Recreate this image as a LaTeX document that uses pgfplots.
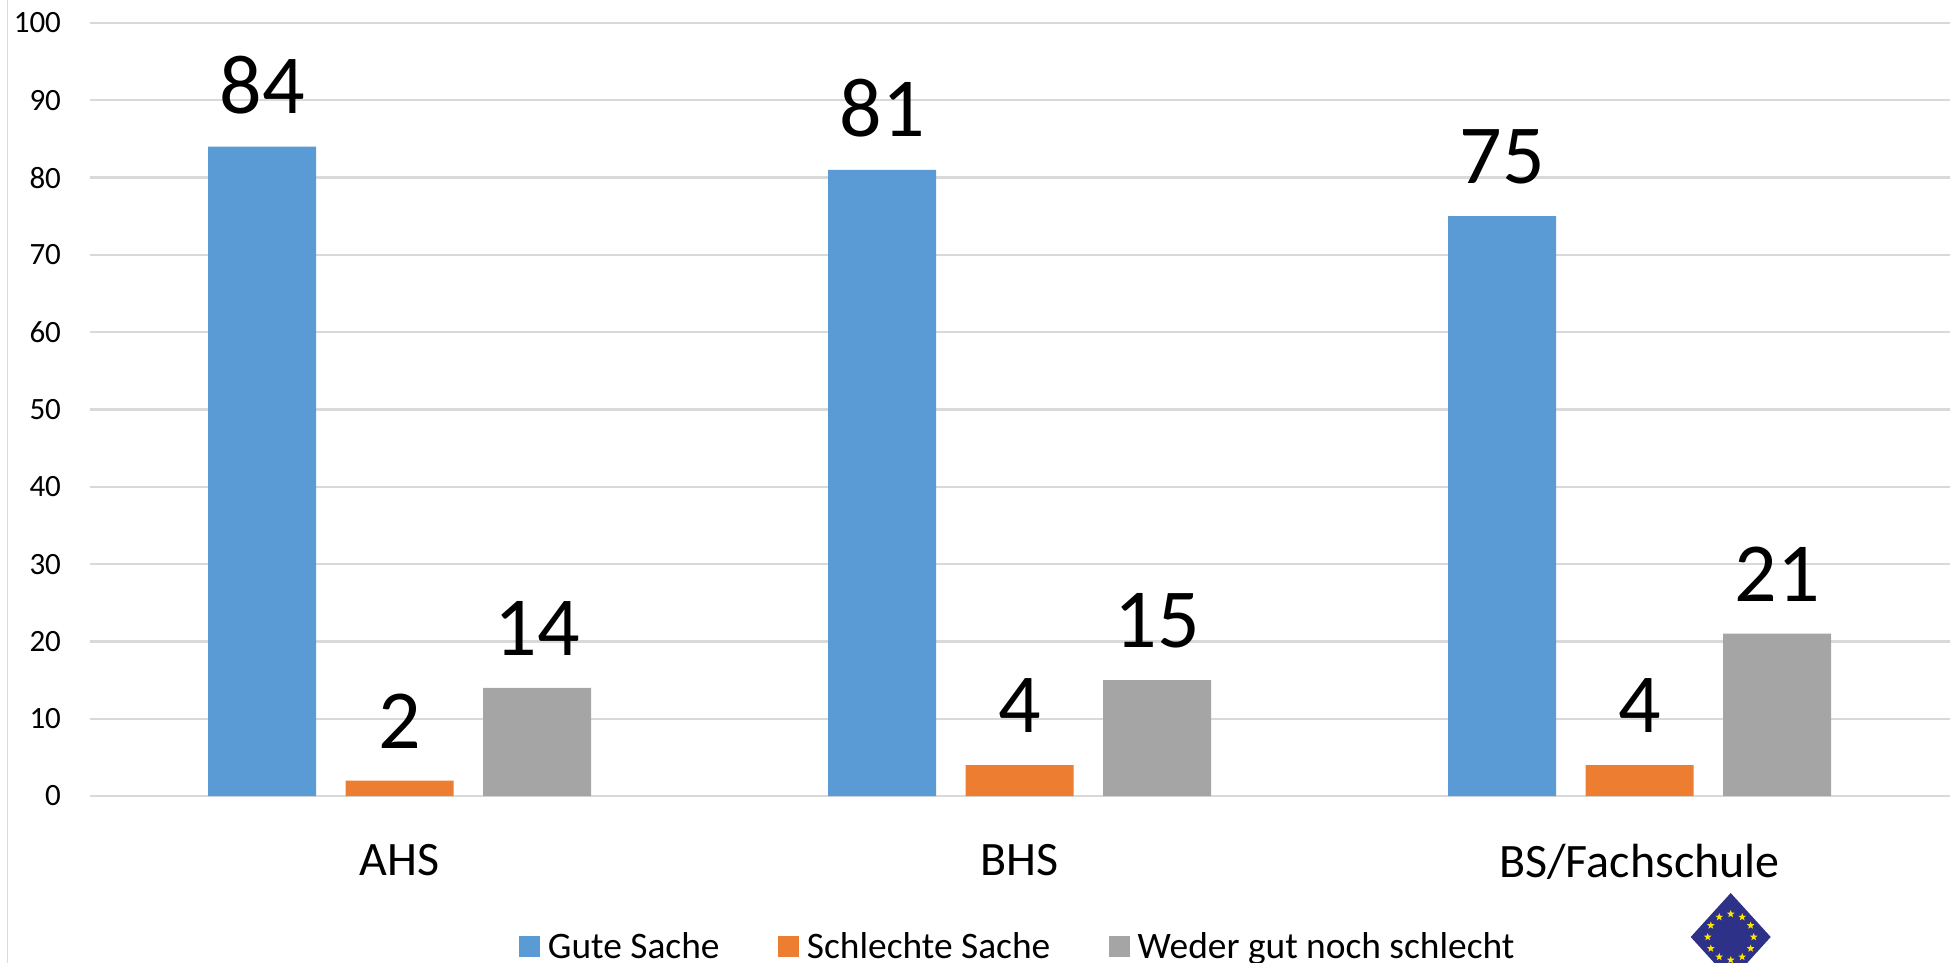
\documentclass[border=0pt]{standalone}
\usepackage{fontspec}
\setmainfont{Carlito}
\usepackage{pgfplots}
\pgfplotsset{compat=1.18}
\usetikzlibrary{shapes.geometric,calc}
\definecolor{cblue}{HTML}{5B9BD5}
\definecolor{corange}{HTML}{ED7D31}
\definecolor{cgray}{HTML}{A5A5A5}
\definecolor{cgrid}{HTML}{D9D9D9}
\definecolor{eublue}{HTML}{2E3188}
\definecolor{euyellow}{HTML}{FFE600}
\begin{document}
\begin{tikzpicture}
\path[use as bounding box] (-45pt,-83.5pt) rectangle (934.5pt,398pt);
\draw[cgrid,line width=0.8pt] (-41.25pt,-83.5pt) -- (-41.25pt,398pt);
\begin{axis}[
  scale only axis,
  width=929.75pt,
  height=386.5pt,
  ymin=0,ymax=100,
  xmin=-0.4992,xmax=2.5,
  ytick={0,10,...,100},
  xtick=data,
  xticklabels={AHS,BHS,BS/Fachschule},
  axis line style={draw=none},
  axis x line*=bottom,
  axis y line*=left,
  major tick length=0pt,
  ymajorgrids,
  grid style={cgrid,line width=1.1pt},
  axis on top=false,
  /pgf/number format/assume math mode=true,
  yticklabel style={font=\fontsize{15.5}{18}\selectfont,xshift=-11pt,/pgf/number format/assume math mode=true},
  xticklabel style={font=\fontsize{24}{28}\selectfont,yshift=-20.5pt},
  tick label style={black},
  ybar=14.75pt,
  bar width=54pt,
  nodes near coords,
  nodes near coords style={font=\fontsize{42}{50}\selectfont,black,anchor=south,inner sep=0pt,yshift=16pt,/pgf/number format/assume math mode=true},
  every axis plot/.append style={draw=none},
  legend columns=3,
  legend style={
    at={(0.2307,-0.1955)},anchor=west,draw=none,fill=none,inner sep=0pt,
    font=\fontsize{18.7}{22}\selectfont,
    nodes={inner xsep=3.8pt,inner ysep=0pt},
    /tikz/every even column/.append style={column sep=25.6pt},
  },
  legend cell align=left,
  legend image code/.code={\fill[#1] (0pt,-5pt) rectangle (10.5pt,5.5pt);},
  clip=false,
]
\addplot[fill=cblue] coordinates {(0,84) (1,81) (2,75)};
\addplot[fill=corange] coordinates {(0,2) (1,4) (2,4)};
\addplot[fill=cgray] coordinates {(0,14) (1,15) (2,21)};
\legend{Gute Sache,Schlechte Sache,Weder gut noch schlecht}
\end{axis}
\begin{scope}
\clip (-45pt,-83.5pt) rectangle (934.5pt,398pt);
\fill[eublue] (820.35pt,-48.5pt) -- (840.35pt,-70.5pt) -- (820.35pt,-92.5pt) -- (800.35pt,-70.5pt) -- cycle;
\foreach \a in {0,30,...,330}
  \node[star,star points=5,star point ratio=2.4,fill=euyellow,inner sep=0pt,minimum size=4pt,draw=none]
    at ($(820.35pt,-70.5pt)+(\a:11.5pt)$) {};
\end{scope}
\end{tikzpicture}
\end{document}
